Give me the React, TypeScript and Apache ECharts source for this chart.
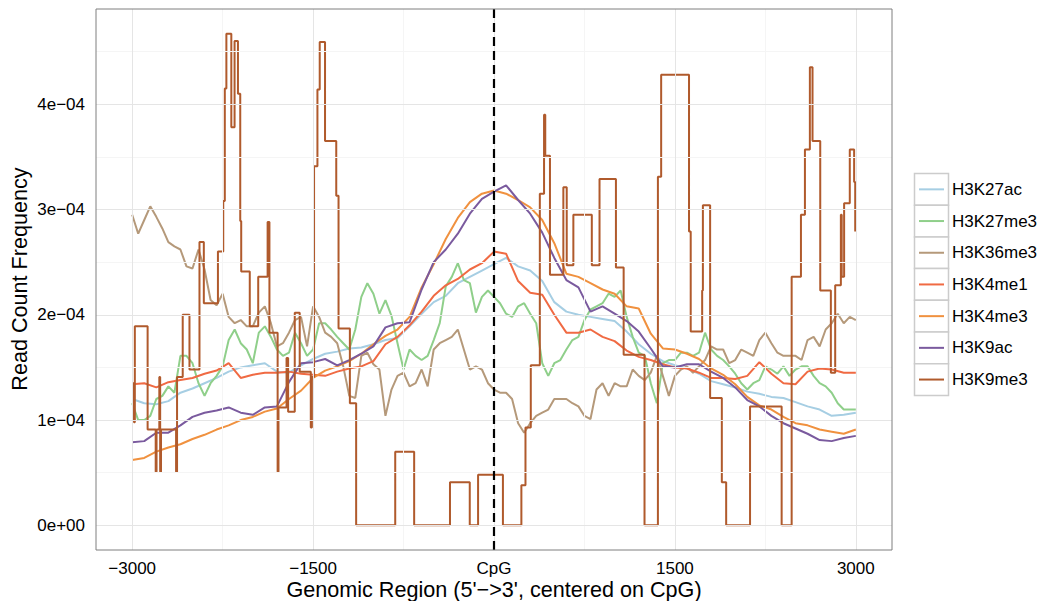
import React, { useEffect, useRef } from "react";
import * as echarts from "echarts";

// Bin centres (bp relative to CpG), 100 bp bins
const positions = [
  -3000, -2900, -2800, -2700, -2600, -2500, -2400, -2300, -2200, -2100,
  -2000, -1900, -1800, -1700, -1600, -1500, -1400, -1300, -1200, -1100,
  -1000, -900, -800, -700, -600, -500, -400, -300, -200, -100,
  0, 100, 200, 300, 400, 500, 600, 700, 800, 900,
  1000, 1100, 1200, 1300, 1400, 1500, 1600, 1700, 1800, 1900,
  2000, 2100, 2200, 2300, 2400, 2500, 2600, 2700, 2800, 2900, 3000,
];
// Finer 50 bp bins for the two noisiest tracks
const positions50 = [
  -3000, -2950, -2900, -2850, -2800, -2750, -2700, -2650, -2600, -2550,
  -2500, -2450, -2400, -2350, -2300, -2250, -2200, -2150, -2100, -2050,
  -2000, -1950, -1900, -1850, -1800, -1750, -1700, -1650, -1600, -1550,
  -1500, -1450, -1400, -1350, -1300, -1250, -1200, -1150, -1100, -1050,
  -1000, -950, -900, -850, -800, -750, -700, -650, -600, -550,
  -500, -450, -400, -350, -300, -250, -200, -150, -100, -50,
  0, 50, 100, 150, 200, 250, 300, 350, 400, 450,
  500, 550, 600, 650, 700, 750, 800, 850, 900, 950,
  1000, 1050, 1100, 1150, 1200, 1250, 1300, 1350, 1400, 1450,
  1500, 1550, 1600, 1650, 1700, 1750, 1800, 1850, 1900, 1950,
  2000, 2050, 2100, 2150, 2200, 2250, 2300, 2350, 2400, 2450,
  2500, 2550, 2600, 2650, 2700, 2750, 2800, 2850, 2900, 2950, 3000,
];

const seriesNames = ["H3K27ac", "H3K27me3", "H3K36me3", "H3K4me1", "H3K4me3", "H3K9ac", "H3K9me3"];
const seriesColors = ["#a6cee3", "#8fcf8a", "#b5997a", "#f06a43", "#f0913f", "#7a5a9e", "#b05a2c"];

// Read count frequency, in units of 1e-04
const h3k27ac = [
  1.20, 1.16, 1.15, 1.18, 1.26, 1.30, 1.35, 1.40, 1.46, 1.50,
  1.52, 1.54, 1.46, 1.45, 1.52, 1.58, 1.63, 1.65, 1.68, 1.69,
  1.72, 1.76, 1.78, 1.89, 2.01, 2.12, 2.18, 2.30, 2.36, 2.42,
  2.48, 2.54, 2.46, 2.42, 2.32, 2.12, 2.03, 2.00, 1.98, 1.96,
  1.94, 1.84, 1.72, 1.63, 1.56, 1.52, 1.49, 1.44, 1.37, 1.34,
  1.31, 1.27, 1.25, 1.22, 1.21, 1.17, 1.13, 1.10, 1.04, 1.05, 1.07,
];
const h3k27me3 = [
  1.16, 1.00, 1.00, 1.04, 1.20, 1.23, 1.32, 1.26, 1.61, 1.61,
  1.54, 1.35, 1.23, 1.35, 1.42, 1.51, 1.76, 1.86, 1.73, 1.67,
  1.54, 1.83, 1.89, 1.79, 1.67, 1.61, 1.64, 1.83, 1.73, 1.61,
  1.67, 1.92, 1.92, 1.86, 1.79, 1.73, 1.67, 1.86, 2.17, 2.30,
  2.20, 2.01, 2.14, 1.99, 1.73, 1.48, 1.67, 1.61, 1.57, 1.61,
  1.76, 1.92, 2.27, 2.36, 2.49, 2.33, 2.30, 2.02, 2.17, 2.23,
  2.17, 2.11, 2.01, 1.98, 2.08, 2.11, 2.01, 1.92, 1.54, 1.42,
  1.54, 1.57, 1.67, 1.76, 1.79, 1.95, 2.05, 2.08, 2.11, 2.20,
  2.17, 2.23, 1.98, 1.79, 1.64, 1.61, 1.35, 1.16, 1.54, 1.57,
  1.57, 1.64, 1.64, 1.61, 1.64, 1.83, 1.67, 1.61, 1.57, 1.51,
  1.44, 1.35, 1.29, 1.35, 1.38, 1.51, 1.48, 1.44, 1.51, 1.42,
  1.48, 1.51, 1.51, 1.42, 1.35, 1.32, 1.26, 1.16, 1.10, 1.10, 1.10,
];
const h3k36me3 = [
  2.95, 2.77, 2.90, 3.03, 2.93, 2.82, 2.69, 2.65, 2.62, 2.46,
  2.44, 2.62, 2.43, 2.14, 2.09, 2.20, 1.98, 1.92, 1.95, 1.89,
  1.89, 2.02, 2.08, 1.92, 1.70, 1.73, 1.83, 1.95, 1.98, 1.70,
  2.08, 1.98, 1.83, 1.79, 1.73, 1.51, 1.23, 1.21, 1.61, 1.64,
  1.53, 1.48, 1.04, 1.29, 1.42, 1.45, 1.32, 1.35, 1.48, 1.32,
  1.67, 1.73, 1.76, 1.79, 1.86, 1.67, 1.48, 1.51, 1.48, 1.35,
  1.29, 1.26, 1.26, 1.20, 0.97, 0.88, 0.97, 1.04, 1.07, 1.10,
  1.20, 1.20, 1.20, 1.16, 1.13, 1.04, 1.01, 1.29, 1.35, 1.23,
  1.35, 1.32, 1.32, 1.48, 1.42, 1.38, 1.45, 1.61, 1.42, 1.23,
  1.42, 1.48, 1.51, 1.45, 1.51, 1.57, 1.70, 1.67, 1.67, 1.54,
  1.57, 1.67, 1.64, 1.61, 1.76, 1.83, 1.73, 1.64, 1.61, 1.61,
  1.61, 1.57, 1.76, 1.79, 1.70, 1.86, 1.92, 2.01, 1.92, 1.98, 1.95,
];
const h3k4me1 = [
  1.34, 1.35, 1.31, 1.36, 1.38, 1.40, 1.44, 1.47, 1.54, 1.40,
  1.43, 1.45, 1.45, 1.46, 1.44, 1.43, 1.42, 1.46, 1.49, 1.51,
  1.56, 1.72, 1.79, 1.90, 2.03, 2.18, 2.28, 2.34, 2.43, 2.49,
  2.60, 2.58, 2.32, 2.21, 2.19, 2.00, 1.83, 1.83, 1.86, 1.79,
  1.75, 1.66, 1.60, 1.57, 1.53, 1.50, 1.49, 1.45, 1.40, 1.40,
  1.39, 1.42, 1.55, 1.44, 1.35, 1.34, 1.46, 1.49, 1.48, 1.45, 1.45,
];
const h3k4me3 = [
  0.62, 0.64, 0.70, 0.74, 0.77, 0.82, 0.86, 0.91, 0.95, 1.00,
  1.03, 1.08, 1.11, 1.20, 1.28, 1.40, 1.47, 1.51, 1.56, 1.63,
  1.72, 1.80, 1.86, 1.98, 2.26, 2.48, 2.72, 2.92, 3.07, 3.15,
  3.18, 3.15, 3.09, 3.02, 2.90, 2.68, 2.39, 2.36, 2.30, 2.24,
  2.20, 2.08, 2.06, 1.82, 1.68, 1.67, 1.63, 1.58, 1.49, 1.43,
  1.34, 1.22, 1.14, 1.10, 1.03, 0.97, 0.95, 0.91, 0.89, 0.87, 0.91,
];
const h3k9ac = [
  0.79, 0.80, 0.88, 0.88, 0.95, 1.03, 1.07, 1.09, 1.12, 1.07,
  1.05, 1.12, 1.13, 1.36, 1.54, 1.55, 1.58, 1.52, 1.57, 1.63,
  1.70, 1.88, 1.92, 1.93, 2.24, 2.50, 2.62, 2.77, 2.96, 3.10,
  3.17, 3.23, 3.09, 2.96, 2.78, 2.54, 2.33, 2.26, 2.03, 2.08,
  2.01, 1.94, 1.84, 1.68, 1.51, 1.50, 1.53, 1.53, 1.46, 1.40,
  1.31, 1.19, 1.13, 1.04, 0.97, 0.92, 0.87, 0.81, 0.80, 0.83, 0.85,
];
// H3K9me3 is piecewise constant: segment start positions and their values (1e-04)
const h3k9me3Starts = [
  -3000, -2985, -2978, -2872, -2805, -2798, -2775, -2768, -2761, -2636,
  -2628, -2581, -2525, -2442, -2406, -2289, -2245, -2232, -2219, -2178,
  -2151, -2123, -2104, -2096, -2025, -1955, -1877, -1862, -1794, -1787,
  -1720, -1707, -1652, -1611, -1519, -1510, -1492, -1464, -1445, -1401,
  -1308, -1289, -1195, -1143, -819, -662, -365, -201, -132, 74,
  227, 261, 305, 380, 415, 425, 464, 575, 603, 658,
  811, 875, 1011, 1075, 1248, 1359, 1386, 1617, 1631, 1726,
  1732, 1792, 1889, 1925, 2123, 2385, 2468, 2545, 2578, 2619,
  2641, 2705, 2793, 2829, 2876, 2883, 2903, 2950, 2986, 2995, 3000,
];
const h3k9me3Values = [
  1.35, 0.98, 1.89, 0.91, 0.51, 0.91, 1.41, 0.51, 0.91, 0.51,
  1.41, 2.00, 1.48, 2.69, 2.11, 2.60, 3.08, 4.15, 4.67, 3.78,
  4.60, 4.10, 2.89, 2.41, 1.89, 2.36, 2.88, 1.83, 0.51, 1.12,
  1.59, 1.08, 2.02, 1.46, 0.93, 1.41, 3.41, 4.14, 4.59, 3.65,
  3.13, 1.87, 1.16, 0.00, 0.70, 0.00, 0.41, 0.00, 0.48, 0.00,
  0.38, 0.93, 1.52, 3.15, 3.90, 3.51, 2.38, 3.21, 2.47, 2.95,
  2.47, 3.29, 2.45, 1.62, 0.00, 3.31, 4.28, 2.79, 1.84, 2.23,
  3.04, 1.21, 0.41, 0.00, 1.13, 0.00, 2.36, 2.95, 3.57, 4.35,
  3.65, 2.23, 1.45, 2.28, 2.95, 2.36, 3.06, 3.57, 3.26, 2.79, 2.79,
];

const xTicks = [-3000, -1500, 0, 1500, 3000];
const xTickLabels = ["\u22123000", "\u22121500", "CpG", "1500", "3000"];
const xMinorGrid = [-2250, -750, 750, 2250];
const yTicks = [0, 1, 2, 3, 4];
const yTickLabels = ["0e+00", "1e\u221204", "2e\u221204", "3e\u221204", "4e\u221204"];
const yMinorGrid = [0.5, 1.5, 2.5, 3.5, 4.5];
const xTitle = "Genomic Region (5'\u2212>3', centered on CpG)";
const yTitle = "Read Count Frequency";

const FONT = "'Liberation Sans', Arial, Helvetica, sans-serif";

const smoothSeries = [
  { x: positions, y: h3k27ac },
  { x: positions50, y: h3k27me3 },
  { x: positions50, y: h3k36me3 },
  { x: positions, y: h3k4me1 },
  { x: positions, y: h3k4me3 },
  { x: positions, y: h3k9ac },
];

export default function App() {
  const ref = useRef<HTMLDivElement>(null);
  useEffect(() => {
    if (!ref.current) return;
    const chart = echarts.init(ref.current, null, { renderer: "svg" });

    const dataSeries: any[] = smoothSeries.map((s, i) => ({
      name: seriesNames[i],
      type: "line",
      data: s.x.map((p, j) => [p, s.y[j]]),
      showSymbol: false,
      symbol: "none",
      lineStyle: { color: seriesColors[i], width: 2 },
      itemStyle: { color: seriesColors[i] },
      z: 3,
      silent: true,
    }));
    dataSeries.push({
      name: seriesNames[6],
      type: "line",
      step: "end",
      data: h3k9me3Starts.map((p, j) => [p, h3k9me3Values[j]]),
      showSymbol: false,
      symbol: "none",
      lineStyle: { color: seriesColors[6], width: 2 },
      itemStyle: { color: seriesColors[6] },
      z: 3,
      silent: true,
    });

    const gridSeries = (vals: number[], axis: "xAxis" | "yAxis", color: string, width: number) => ({
      type: "line",
      data: [],
      silent: true,
      z: 1,
      markLine: {
        silent: true,
        symbol: ["none", "none"],
        label: { show: false },
        animation: false,
        lineStyle: { color, width, type: "solid" },
        data: vals.map((v) => ({ [axis]: v })),
      },
    });

    const legendGraphics: any[] = [];
    const legX = 914.5;
    const legTop = 173.5;
    const rowH = 31.7;
    seriesNames.forEach((name, i) => {
      const y0 = legTop + i * rowH;
      legendGraphics.push({
        type: "rect",
        shape: { x: legX, y: y0, width: 34, height: rowH },
        style: { fill: "#ffffff", stroke: "#cccccc", lineWidth: 1.5 },
        silent: true,
      });
      legendGraphics.push({
        type: "line",
        shape: { x1: legX + 4.5, y1: y0 + rowH / 2, x2: legX + 29.5, y2: y0 + rowH / 2 },
        style: { stroke: seriesColors[i], lineWidth: 2 },
        silent: true,
      });
      legendGraphics.push({
        type: "text",
        x: 952,
        y: y0 + rowH / 2,
        style: {
          text: name,
          font: `17px ${FONT}`,
          fill: "#000000",
          align: "left",
          verticalAlign: "middle",
        },
        silent: true,
      });
    });

    chart.setOption({
      animation: false,
      backgroundColor: "#ffffff",
      grid: {
        left: 96,
        top: 9,
        right: 1045 - 892,
        bottom: 601 - 550,
        show: true,
        z: 10,
        backgroundColor: "transparent",
        borderColor: "#7f7f7f",
        borderWidth: 1,
      },
      xAxis: {
        type: "value",
        min: -3300,
        max: 3300,
        axisLine: { show: false },
        splitLine: { show: false },
        axisTick: {
          show: true,
          length: 5,
          customValues: xTicks,
          lineStyle: { color: "#333333", width: 1 },
        },
        axisLabel: {
          customValues: xTicks,
          margin: 10,
          fontSize: 17,
          fontFamily: FONT,
          color: "#000000",
          formatter: (v: number) => xTickLabels[xTicks.indexOf(v)] ?? "",
        },
      },
      yAxis: {
        type: "value",
        min: -0.234,
        max: 4.904,
        axisLine: { show: false },
        splitLine: { show: false },
        axisTick: {
          show: true,
          length: 5,
          customValues: yTicks,
          lineStyle: { color: "#333333", width: 1 },
        },
        axisLabel: {
          customValues: yTicks,
          margin: 11,
          fontSize: 17,
          fontFamily: FONT,
          color: "#000000",
          formatter: (v: number) => yTickLabels[yTicks.indexOf(v)] ?? "",
        },
      },
      graphic: [
        {
          type: "text",
          x: 494,
          y: 589,
          style: {
            text: xTitle,
            font: `21.6px ${FONT}`,
            fill: "#000000",
            align: "center",
            verticalAlign: "middle",
          },
          silent: true,
        },
        {
          type: "text",
          x: 19,
          y: 279,
          rotation: Math.PI / 2,
          style: {
            text: yTitle,
            font: `21.6px ${FONT}`,
            fill: "#000000",
            align: "center",
            verticalAlign: "middle",
          },
          silent: true,
        },
        ...legendGraphics,
      ],
      series: [
        gridSeries(xMinorGrid, "xAxis", "#f5f5f5", 1),
        gridSeries(yMinorGrid, "yAxis", "#f5f5f5", 1),
        gridSeries(xTicks, "xAxis", "#e5e5e5", 1),
        gridSeries(yTicks, "yAxis", "#e5e5e5", 1),
        ...dataSeries,
        {
          type: "line",
          data: [],
          silent: true,
          z: 6,
          markLine: {
            silent: true,
            symbol: ["none", "none"],
            label: { show: false },
            lineStyle: { color: "#000000", width: 2.2, type: [9, 5] },
            data: [{ xAxis: 0 }],
          },
        },
      ],
    });

    return () => chart.dispose();
  }, []);

  return (
    <div
      ref={ref}
      style={{ position: "fixed", left: 0, top: 0, width: 1045, height: 601, background: "#ffffff" }}
    />
  );
}
